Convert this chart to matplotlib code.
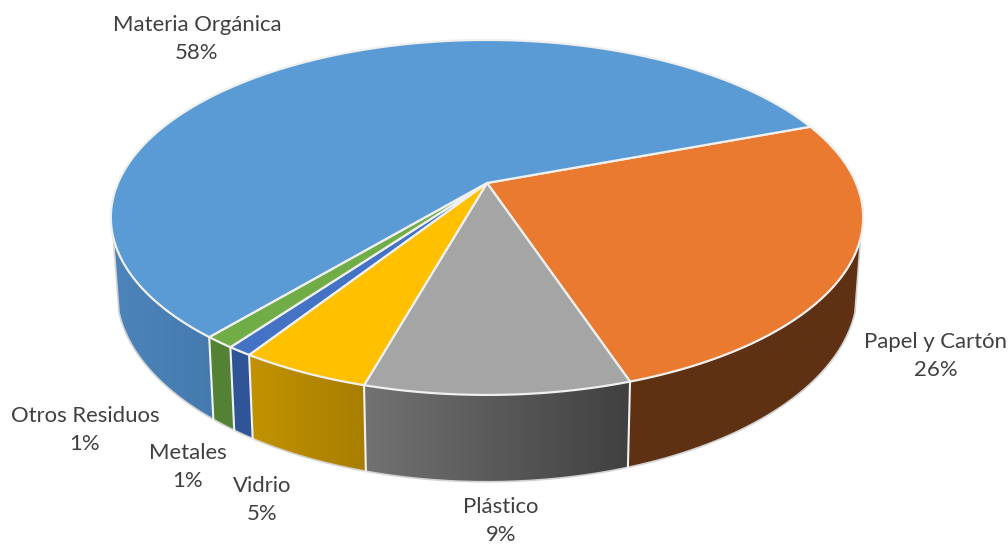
import numpy as np
import matplotlib
matplotlib.use("Agg")
import matplotlib.pyplot as plt
from matplotlib.colors import to_rgb
from matplotlib.patches import Polygon

# datos del grafico (sentido horario desde el corte azul/naranja)
etiquetas = ["Papel y Cartón", "Plástico", "Vidrio", "Metales", "Otros Residuos", "Materia Orgánica"]
porcentajes = [25.6, 9.49, 4.7, 0.9, 1.1, 58.21]

colores_top = ["#E97A2F", "#A5A5A5", "#FFC000", "#4472C4", "#70AD47", "#5B9BD5"]
pared_izq = ["#5F3113", "#727272", "#C29200", "#2F5597", "#548235", "#4C84BA"]
pared_der = ["#5F3113", "#404040", "#A87E00", "#2F5597", "#548235", "#457AAE"]
pos_textos = [(936, 356), (501, 521), (262, 500), (188, 467), (85, 430), (197, 39)]

# geometria de la perspectiva, en pixeles
CX, CY = 487, 183
BX, AY, K = 369, 170.8, 0.194
PROF = 70
ESC_BASE = 0.985
ANG_INI = 69.4
V_SILUETA = 0.3  # a partir de aqui la pared se ve desde delante


def proyectar(phi, base=False):
    u = np.sin(np.radians(phi))
    v = -np.cos(np.radians(phi))
    w = 1 - K * v
    x = BX * u / w
    y = CY + AY * v / w
    if base:
        return CX + ESC_BASE * x, y + PROF / w
    return CX + x, y


fig = plt.figure(figsize=(10.08, 5.45), dpi=100)
ax = fig.add_axes([0, 0, 1, 1])
ax.axis("off")

angulos = ANG_INI + np.concatenate([[0], np.cumsum(porcentajes)]) * 3.6

# paredes laterales: degradado horizontal recortado con el poligono
for i in range(len(porcentajes)):
    f = np.linspace(angulos[i], angulos[i + 1], 300)
    f = f[-np.cos(np.radians(f)) > V_SILUETA]
    xt, yt = proyectar(f)
    xb, yb = proyectar(f, base=True)
    xs = np.r_[xt, xb[::-1]]
    ys = np.r_[yt, yb[::-1]]
    pared = Polygon(np.c_[xs, ys], closed=True, facecolor="none", edgecolor="none")
    ax.add_patch(pared)
    grad = np.linspace(to_rgb(pared_izq[i]), to_rgb(pared_der[i]), 256)[None, :, :]
    im = ax.imshow(grad, extent=(xs.min(), xs.max(), ys.max(), ys.min()),
                   aspect="auto", interpolation="bilinear", zorder=2)
    im.set_clip_path(pared)

ax.set_xlim(0, 1008)
ax.set_ylim(545, 0)

# contorno gris de la base y de los lados
f = np.linspace(angulos[0], angulos[-1], 800)
f = f[-np.cos(np.radians(f)) > V_SILUETA]
xb, yb = proyectar(f, base=True)
xt, yt = proyectar(f)
ax.plot(np.r_[xt[0], xb, xt[-1]], np.r_[yt[0], yb, yt[-1]], color="#D2D2D2", lw=1.2, zorder=3)

# lineas blancas entre paredes
for a in angulos[:-1]:
    if -np.cos(np.radians(a)) > V_SILUETA:
        xt, yt = proyectar(a)
        xb, yb = proyectar(a, base=True)
        ax.plot([xt, xb], [yt, yb], color="#F2F2F2", lw=1.5, zorder=4)

# cara superior
for i in range(len(porcentajes)):
    f = np.linspace(angulos[i], angulos[i + 1], 200)
    xt, yt = proyectar(f)
    ax.fill(np.r_[CX, xt], np.r_[CY, yt], facecolor=colores_top[i],
            edgecolor="#F0F0F0", lw=1.6, joinstyle="round", zorder=5)

for nombre, pct, (x, y) in zip(etiquetas, porcentajes, pos_textos):
    ax.text(x, y, f"{nombre}\n{pct:.0f}%", ha="center", va="center", family="Lato",
            fontsize=15.9, color="#404040", linespacing=1.55, zorder=6)

fig.savefig("out.png", dpi=100)
